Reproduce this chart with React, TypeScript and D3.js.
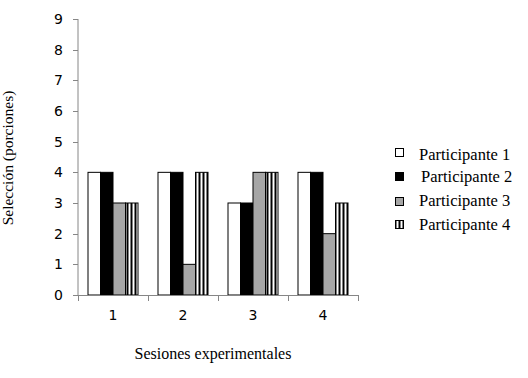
import React from "react";
import * as d3 from "d3";

const sessions = ["1", "2", "3", "4"];
const participants = ["Participante 1", "Participante 2", "Participante 3", "Participante 4"];
const p1 = [4, 4, 3, 4];
const p2 = [4, 4, 3, 4];
const p3 = [3, 1, 4, 2];
const p4 = [3, 4, 4, 3];
const yTicks = [0, 1, 2, 3, 4, 5, 6, 7, 8, 9];

const series = [p1, p2, p3, p4];
const fills = ["#ffffff", "#000000", "#a6a6a6", "url(#stripes)"];
const serif = "'Liberation Serif', 'Times New Roman', Times, serif";
const sans = "'DejaVu Sans', sans-serif";

export default function App() {
  const W = 528, H = 378;
  const x0 = 78, x1 = 358, yTop = 19, yBot = 295;
  const x = d3.scaleBand().domain(sessions).range([x0, x1]).paddingInner(0).paddingOuter(0);
  const y = d3.scaleLinear().domain([0, 9]).range([yBot, yTop]);
  const inner = d3.scaleBand().domain(participants).range([10, x.bandwidth() - 10]);
  const axisColor = "#868686";
  const legendY = [152.5, 176.5, 201.5, 224.5];
  const legendTextY = [160, 182, 206, 230];
  const legendTextX = [419, 421, 419, 419];

  return (
    <svg width={W} height={H} style={{ position: "absolute", left: 0, top: 0, background: "#fff" }}>
      <defs>
        <pattern id="stripes" width="4" height="4" patternUnits="userSpaceOnUse" x={x0 + 10 + inner.bandwidth() * 3 + 1}>
          <rect width="4" height="4" fill="#fff" />
          <rect x="0" width="2" height="4" fill="#000" />
        </pattern>
      </defs>
      {/* y axis */}
      <line x1={x0} x2={x0} y1={yTop} y2={yBot} stroke={axisColor} />
      {yTicks.map((t) => (
        <g key={t}>
          <line x1={x0 - 5} x2={x0} y1={Math.round(y(t)) + 0.5} y2={Math.round(y(t)) + 0.5} stroke={axisColor} />
          <text x={63} y={y(t) + 5} textAnchor="end" fontFamily={sans} fontSize={14} fill="#000">{t}</text>
        </g>
      ))}
      {/* bars */}
      {sessions.map((s, i) => (
        <g key={s}>
          {series.map((vals, j) => {
            const bx = (x(s) as number) + (inner(participants[j]) as number);
            return (
              <rect key={j} x={bx} y={y(vals[i])} width={inner.bandwidth()} height={yBot - y(vals[i])}
                fill={fills[j]} stroke="#000" strokeWidth={1} />
            );
          })}
        </g>
      ))}
      {/* x axis */}
      <line x1={x0} x2={x1} y1={yBot + 0.5} y2={yBot + 0.5} stroke={axisColor} />
      {[...sessions.map((s) => x(s) as number), x1].map((v, i) => (
        <line key={i} x1={Math.round(v) + 0.5} x2={Math.round(v) + 0.5} y1={yBot} y2={yBot + 6} stroke={axisColor} />
      ))}
      {sessions.map((s) => (
        <text key={s} x={(x(s) as number) + x.bandwidth() / 2} y={320} textAnchor="middle" fontFamily={sans} fontSize={14} fill="#000">{s}</text>
      ))}
      <text x={213} y={359} textAnchor="middle" fontFamily={serif} fontSize={16} fill="#000">Sesiones experimentales</text>
      <text transform={`translate(13,158) rotate(-90)`} textAnchor="middle" fontFamily={serif} fontSize={15.5} fill="#000">Selección (porciones)</text>
      {/* legend */}
      {participants.map((p, j) => (
        <g key={p}>
          <rect x={395.5} y={legendY[j] - 4} width={8} height={8} fill={fills[j]} stroke="#000" />
          <text x={legendTextX[j]} y={legendTextY[j]} fontFamily={serif} fontSize={16.5} fill="#000">{p}</text>
        </g>
      ))}
    </svg>
  );
}
